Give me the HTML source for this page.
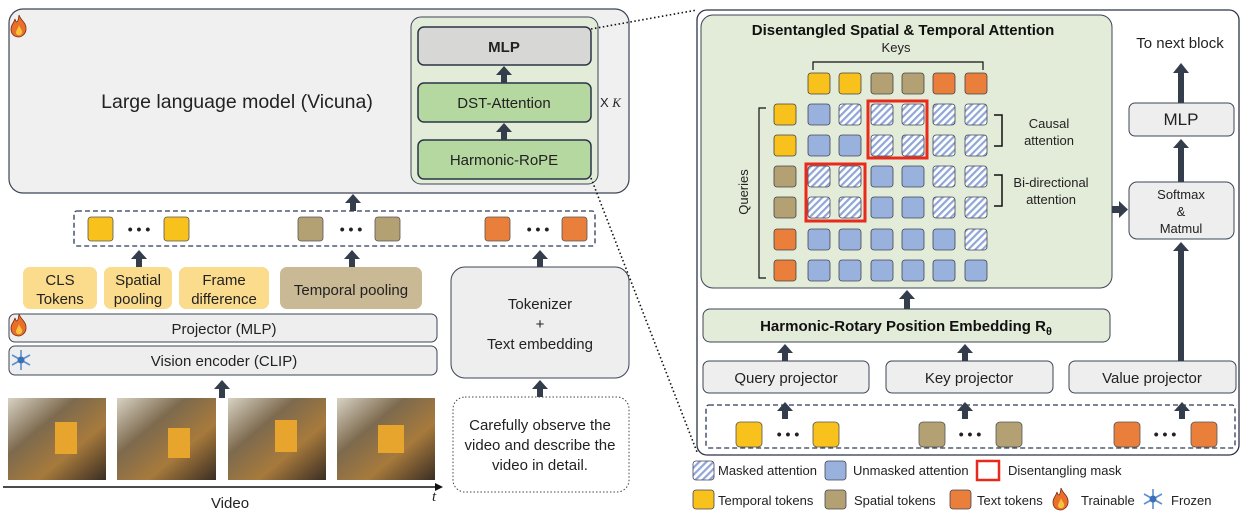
<!DOCTYPE html>
<html><head><meta charset="utf-8"><style>
html,body{margin:0;padding:0;background:#fff}
svg{display:block;font-family:"Liberation Sans",sans-serif}
</style></head><body>
<svg width="1247" height="511" viewBox="0 0 1247 511" xmlns="http://www.w3.org/2000/svg">
<defs>
<pattern id="h" width="5" height="5" patternUnits="userSpaceOnUse" patternTransform="rotate(45)">
<rect width="5" height="5" fill="#fff"/><rect width="2.2" height="5" fill="#8fa6d6"/></pattern>
<linearGradient id="ph" x1="0" y1="0" x2="1" y2="1"><stop offset="0" stop-color="#d8d2c4"/><stop offset="0.35" stop-color="#7d6a4e"/><stop offset="0.65" stop-color="#a77a3c"/><stop offset="1" stop-color="#3a2d24"/></linearGradient>
<g id="fire"><path d="M8 0 C10 6 16 8 15 15 C14 20 10 22 8 22 C3 22 0 19 0 14 C0 10 3 8 4 4 C5 8 7 9 8 0Z" fill="#e8702a" stroke="#7a2a10" stroke-width="0.8"/><path d="M8 10 C9 14 12 15 11 18 C10 21 6 21 5 18 C5 15 7 14 8 10Z" fill="#f9c23c"/></g>
<g id="snow" stroke="#5b8fd0" stroke-width="1.6" fill="none"><line x1="10" y1="0" x2="10" y2="20"/><line x1="1" y1="5" x2="19" y2="15"/><line x1="1" y1="15" x2="19" y2="5"/><circle cx="10" cy="10" r="3.5" fill="#3b6fb8" stroke="none"/></g>
</defs>

<!-- LLM box -->
<rect x="9" y="9" width="620" height="184" rx="14" fill="#f0f0f0" stroke="#3c4456" stroke-width="1.2"/>
<use href="#fire" x="11" y="15"/>
<text x="237" y="108" font-size="19.5" text-anchor="middle" fill="#222">Large language model (Vicuna)</text>
<rect x="411" y="17" width="187" height="167" rx="10" fill="#e3ecd9" stroke="#3c4456"/>
<rect x="418" y="27" width="173" height="38" rx="6" fill="#d7d8d6" stroke="#2b3446" stroke-width="1.5"/>
<text x="504" y="52" font-size="15" text-anchor="middle" font-weight="bold" fill="#222">MLP</text>
<rect x="418" y="83" width="173" height="39" rx="6" fill="#b5d7a0" stroke="#2b3446" stroke-width="1.5"/>
<text x="504" y="108" font-size="15" text-anchor="middle" fill="#222">DST-Attention</text>
<rect x="418" y="140" width="173" height="39" rx="6" fill="#b5d7a0" stroke="#2b3446" stroke-width="1.5"/>
<text x="504" y="165" font-size="15" text-anchor="middle" fill="#222">Harmonic-RoPE</text>
<g fill="#333d4c">
<rect x="501" y="73" width="6" height="10"/><polygon points="496,75 512,75 504,66"/>
<rect x="501" y="130" width="6" height="10"/><polygon points="496,132 512,132 504,123"/>
</g>
<text x="600" y="107" font-size="13" fill="#222">X <tspan font-family="Liberation Serif" font-style="italic">K</tspan></text>

<!-- dotted zoom lines -->
<line x1="591" y1="29" x2="697" y2="10" stroke="#111" stroke-width="1.6" stroke-dasharray="1.5,2.5"/>
<line x1="591" y1="178" x2="697" y2="452" stroke="#111" stroke-width="1.6" stroke-dasharray="1.5,2.5"/>

<!-- token row left -->
<rect x="74" y="211" width="521" height="35" rx="3" fill="#fff" stroke="#2d3a5a" stroke-width="1.3" stroke-dasharray="5,3"/>
<g stroke="#555" stroke-width="0.8">
<rect x="88" y="217" width="25" height="24" rx="3" fill="#f8c11b"/><rect x="164" y="217" width="25" height="24" rx="3" fill="#f8c11b"/>
<rect x="298" y="217" width="25" height="24" rx="3" fill="#b3a073"/><rect x="375" y="217" width="25" height="24" rx="3" fill="#b3a073"/>
<rect x="485" y="217" width="25" height="24" rx="3" fill="#e97f3b"/><rect x="562" y="217" width="25" height="24" rx="3" fill="#e97f3b"/>
</g>
<g font-size="14" font-weight="bold" text-anchor="middle" fill="#222"><text x="139" y="234">• • •</text><text x="351" y="234">• • •</text><text x="538" y="234">• • •</text></g>
<g fill="#333d4c">
<rect x="350" y="201" width="6" height="10"/><polygon points="345,203 361,203 353,194"/>
<rect x="136" y="257" width="6" height="10"/><polygon points="131,259 147,259 139,250"/>
<rect x="349" y="257" width="6" height="10"/><polygon points="344,259 360,259 352,250"/>
<rect x="537" y="257" width="6" height="10"/><polygon points="532,259 548,259 540,250"/>
<rect x="219" y="387" width="6" height="11"/><polygon points="214,389 230,389 222,380"/>
<rect x="537" y="387" width="6" height="11"/><polygon points="532,389 548,389 540,380"/>
</g>

<!-- pooling boxes -->
<g font-size="15" text-anchor="middle" fill="#222">
<rect x="23" y="267" width="74" height="42" rx="7" fill="#fbdc8c"/>
<text x="60" y="285">CLS</text><text x="60" y="304">Tokens</text>
<rect x="104" y="267" width="68" height="42" rx="7" fill="#fbdc8c"/>
<text x="138" y="285">Spatial</text><text x="138" y="304">pooling</text>
<rect x="179" y="267" width="90" height="42" rx="7" fill="#fbdc8c"/>
<text x="224" y="285">Frame</text><text x="224" y="304">difference</text>
<rect x="280" y="267" width="142" height="42" rx="7" fill="#c9b995"/>
<text x="351" y="295">Temporal pooling</text>
<rect x="9" y="314" width="428" height="28" rx="6" fill="#eeeeee" stroke="#3c4456"/>
<text x="224" y="334">Projector (MLP)</text>
<rect x="9" y="346" width="428" height="29" rx="6" fill="#eeeeee" stroke="#3c4456"/>
<text x="224" y="366">Vision encoder (CLIP)</text>
<rect x="451" y="267" width="178" height="111" rx="14" fill="#eeeeee" stroke="#3c4456"/>
<text x="540" y="309">Tokenizer</text><text x="540" y="329">+</text><text x="540" y="349">Text embedding</text>
<rect x="453" y="397" width="176" height="95" rx="12" fill="#fff" stroke="#444" stroke-dasharray="1.5,2"/>
<text x="540" y="430">Carefully observe the</text><text x="540" y="450">video and describe the</text><text x="540" y="470">video in detail.</text>
</g>
<use href="#fire" x="11" y="314"/>
<use href="#snow" x="11" y="350"/>

<!-- photos -->
<rect x="8" y="398" width="98" height="82" fill="url(#ph)"/>
<rect x="117" y="398" width="99" height="82" fill="url(#ph)"/>
<rect x="228" y="398" width="98" height="82" fill="url(#ph)"/>
<rect x="337" y="398" width="98" height="82" fill="url(#ph)"/>
<g fill="#e8a52e"><rect x="55" y="422" width="22" height="32"/><rect x="168" y="428" width="22" height="30"/><rect x="275" y="420" width="22" height="32"/><rect x="378" y="425" width="26" height="28"/></g>
<line x1="3" y1="487" x2="436" y2="487" stroke="#111" stroke-width="1.5"/>
<polygon points="435,483 443,487 435,491" fill="#111"/>
<text x="230" y="508" font-size="15" text-anchor="middle" fill="#222">Video</text>
<text x="432" y="501" font-size="15" font-family="Liberation Serif" font-style="italic" fill="#222">t</text>

<!-- right panel -->
<rect x="697" y="10" width="542" height="445" rx="10" fill="#fff" stroke="#2b3446" stroke-width="1.3"/>
<rect x="701" y="15" width="411" height="273" rx="12" fill="#e3ecd9" stroke="#3c4456"/>
<text x="903" y="35" font-size="15" font-weight="bold" text-anchor="middle" fill="#111">Disentangled Spatial &amp; Temporal Attention</text>
<text x="896" y="52" font-size="13" text-anchor="middle" fill="#222">Keys</text>
<path d="M813 70 V62 H983 V70" fill="none" stroke="#111" stroke-width="1.2"/>
<g stroke="#444" stroke-width="0.8">
<rect x="808" y="73" width="22" height="21" rx="3" fill="#f8c11b"/><rect x="839" y="73" width="22" height="21" rx="3" fill="#f8c11b"/>
<rect x="871" y="73" width="22" height="21" rx="3" fill="#b3a073"/><rect x="902" y="73" width="22" height="21" rx="3" fill="#b3a073"/>
<rect x="933" y="73" width="22" height="21" rx="3" fill="#e97f3b"/><rect x="965" y="73" width="22" height="21" rx="3" fill="#e97f3b"/>
<rect x="774" y="104" width="22" height="21" rx="3" fill="#f8c11b"/><rect x="774" y="135" width="22" height="21" rx="3" fill="#f8c11b"/>
<rect x="774" y="166" width="22" height="21" rx="3" fill="#b3a073"/><rect x="774" y="197" width="22" height="21" rx="3" fill="#b3a073"/>
<rect x="774" y="229" width="22" height="21" rx="3" fill="#e97f3b"/><rect x="774" y="260" width="22" height="21" rx="3" fill="#e97f3b"/>
</g>
<path d="M766 108 H759 V278 H766" fill="none" stroke="#111" stroke-width="1.2"/>
<text transform="translate(748,192) rotate(-90)" font-size="13" text-anchor="middle" fill="#222">Queries</text>
<g stroke="#445" stroke-width="0.8">
<rect x="808" y="104" width="22" height="21" rx="3" fill="#98b1dd"/><rect x="839" y="104" width="22" height="21" rx="3" fill="url(#h)"/><rect x="871" y="104" width="22" height="21" rx="3" fill="url(#h)"/><rect x="902" y="104" width="22" height="21" rx="3" fill="url(#h)"/><rect x="933" y="104" width="22" height="21" rx="3" fill="url(#h)"/><rect x="965" y="104" width="22" height="21" rx="3" fill="url(#h)"/>
<rect x="808" y="135" width="22" height="21" rx="3" fill="#98b1dd"/><rect x="839" y="135" width="22" height="21" rx="3" fill="#98b1dd"/><rect x="871" y="135" width="22" height="21" rx="3" fill="url(#h)"/><rect x="902" y="135" width="22" height="21" rx="3" fill="url(#h)"/><rect x="933" y="135" width="22" height="21" rx="3" fill="url(#h)"/><rect x="965" y="135" width="22" height="21" rx="3" fill="url(#h)"/>
<rect x="808" y="166" width="22" height="21" rx="3" fill="url(#h)"/><rect x="839" y="166" width="22" height="21" rx="3" fill="url(#h)"/><rect x="871" y="166" width="22" height="21" rx="3" fill="#98b1dd"/><rect x="902" y="166" width="22" height="21" rx="3" fill="#98b1dd"/><rect x="933" y="166" width="22" height="21" rx="3" fill="url(#h)"/><rect x="965" y="166" width="22" height="21" rx="3" fill="url(#h)"/>
<rect x="808" y="197" width="22" height="21" rx="3" fill="url(#h)"/><rect x="839" y="197" width="22" height="21" rx="3" fill="url(#h)"/><rect x="871" y="197" width="22" height="21" rx="3" fill="#98b1dd"/><rect x="902" y="197" width="22" height="21" rx="3" fill="#98b1dd"/><rect x="933" y="197" width="22" height="21" rx="3" fill="url(#h)"/><rect x="965" y="197" width="22" height="21" rx="3" fill="url(#h)"/>
<rect x="808" y="229" width="22" height="21" rx="3" fill="#98b1dd"/><rect x="839" y="229" width="22" height="21" rx="3" fill="#98b1dd"/><rect x="871" y="229" width="22" height="21" rx="3" fill="#98b1dd"/><rect x="902" y="229" width="22" height="21" rx="3" fill="#98b1dd"/><rect x="933" y="229" width="22" height="21" rx="3" fill="#98b1dd"/><rect x="965" y="229" width="22" height="21" rx="3" fill="url(#h)"/>
<rect x="808" y="260" width="22" height="21" rx="3" fill="#98b1dd"/><rect x="839" y="260" width="22" height="21" rx="3" fill="#98b1dd"/><rect x="871" y="260" width="22" height="21" rx="3" fill="#98b1dd"/><rect x="902" y="260" width="22" height="21" rx="3" fill="#98b1dd"/><rect x="933" y="260" width="22" height="21" rx="3" fill="#98b1dd"/><rect x="965" y="260" width="22" height="21" rx="3" fill="#98b1dd"/>
</g>
<rect x="868" y="101" width="59" height="57" fill="none" stroke="#e8291c" stroke-width="3"/>
<rect x="806" y="164" width="59" height="57" fill="none" stroke="#e8291c" stroke-width="3"/>
<path d="M994 115 H1002 V146 H994" fill="none" stroke="#111" stroke-width="1.5"/>
<path d="M994 175 H1002 V206 H994" fill="none" stroke="#111" stroke-width="1.5"/>
<g font-size="13" text-anchor="middle" fill="#222">
<text x="1049" y="128">Causal</text><text x="1049" y="145">attention</text>
<text x="1051" y="187">Bi-directional</text><text x="1051" y="204">attention</text>
</g>

<rect x="703" y="309" width="407" height="33" rx="7" fill="#e3ecd9" stroke="#3c4456"/>
<text x="906" y="331" font-size="15" font-weight="bold" text-anchor="middle" fill="#111">Harmonic-Rotary Position Embedding R<tspan font-size="11" dy="4">θ</tspan></text>
<g font-size="15" text-anchor="middle" fill="#222">
<rect x="703" y="361" width="166" height="32" rx="6" fill="#eeeeee" stroke="#3c4456"/><text x="786" y="383">Query projector</text>
<rect x="886" y="361" width="167" height="32" rx="6" fill="#eeeeee" stroke="#3c4456"/><text x="969" y="383">Key projector</text>
<rect x="1069" y="361" width="167" height="32" rx="6" fill="#eeeeee" stroke="#3c4456"/><text x="1152" y="383">Value projector</text>
</g>
<rect x="706" y="405" width="529" height="43" rx="3" fill="#fff" stroke="#2d3a5a" stroke-width="1.3" stroke-dasharray="5,3"/>
<g stroke="#555" stroke-width="0.8">
<rect x="736" y="422" width="26" height="25" rx="4" fill="#f8c11b"/><rect x="813" y="422" width="26" height="25" rx="4" fill="#f8c11b"/>
<rect x="919" y="422" width="26" height="25" rx="4" fill="#b3a073"/><rect x="996" y="422" width="26" height="25" rx="4" fill="#b3a073"/>
<rect x="1114" y="422" width="26" height="25" rx="4" fill="#e97f3b"/><rect x="1191" y="422" width="26" height="25" rx="4" fill="#e97f3b"/>
</g>
<g font-size="14" font-weight="bold" text-anchor="middle" fill="#222"><text x="788" y="439">• • •</text><text x="970" y="439">• • •</text><text x="1165" y="439">• • •</text></g>

<g fill="#333d4c">
<rect x="904" y="297" width="6" height="12"/><polygon points="899,299 915,299 907,290"/>
<rect x="782" y="352" width="6" height="9"/><polygon points="777,353 793,353 785,344"/>
<rect x="962" y="352" width="6" height="9"/><polygon points="957,353 973,353 965,344"/>
<rect x="782" y="410" width="6" height="9"/><polygon points="777,411 793,411 785,402"/>
<rect x="962" y="410" width="6" height="9"/><polygon points="957,411 973,411 965,402"/>
<rect x="1179" y="410" width="6" height="9"/><polygon points="1174,411 1190,411 1182,402"/>
<rect x="1178" y="249" width="6" height="112"/><polygon points="1173,251 1189,251 1181,242"/>
<rect x="1178" y="146" width="6" height="36"/><polygon points="1173,148 1189,148 1181,139"/>
<rect x="1178" y="70" width="6" height="33"/><polygon points="1173,73 1189,73 1181,63"/>
<rect x="1112" y="206" width="8" height="7"/><polygon points="1119,201 1119,218 1128,209.5"/>
</g>
<rect x="1129" y="103" width="105" height="33" rx="6" fill="#eeeeee" stroke="#3c4456"/>
<text x="1181" y="125" font-size="17" text-anchor="middle" fill="#222">MLP</text>
<rect x="1129" y="182" width="105" height="57" rx="8" fill="#eeeeee" stroke="#3c4456"/>
<g font-size="13" text-anchor="middle" fill="#222"><text x="1181" y="199">Softmax</text><text x="1181" y="216">&amp;</text><text x="1181" y="233">Matmul</text></g>
<text x="1180" y="48" font-size="15" text-anchor="middle" fill="#222">To next block</text>

<!-- legend -->
<g font-size="13" fill="#222" stroke-width="0.8">
<rect x="693" y="461" width="21" height="19" rx="3" fill="url(#h)" stroke="#445"/><text x="718" y="475">Masked attention</text>
<rect x="825" y="461" width="21" height="19" rx="3" fill="#98b1dd" stroke="#445"/><text x="853" y="475">Unmasked attention</text>
<rect x="977" y="461" width="22" height="19" fill="#fff" stroke="#e8291c" stroke-width="2.5"/><text x="1008" y="475">Disentangling mask</text>
<rect x="693" y="490" width="21" height="19" rx="3" fill="#f8c11b" stroke="#445"/><text x="718" y="505">Temporal tokens</text>
<rect x="825" y="490" width="21" height="19" rx="3" fill="#b3a073" stroke="#445"/><text x="854" y="505">Spatial tokens</text>
<rect x="950" y="490" width="21" height="19" rx="3" fill="#e97f3b" stroke="#445"/><text x="977" y="505">Text tokens</text>
<use href="#fire" x="1053" y="488"/><text x="1081" y="505">Trainable</text>
<use href="#snow" x="1143" y="489"/><text x="1171" y="505">Frozen</text>
</g>
</svg>
</body></html>
